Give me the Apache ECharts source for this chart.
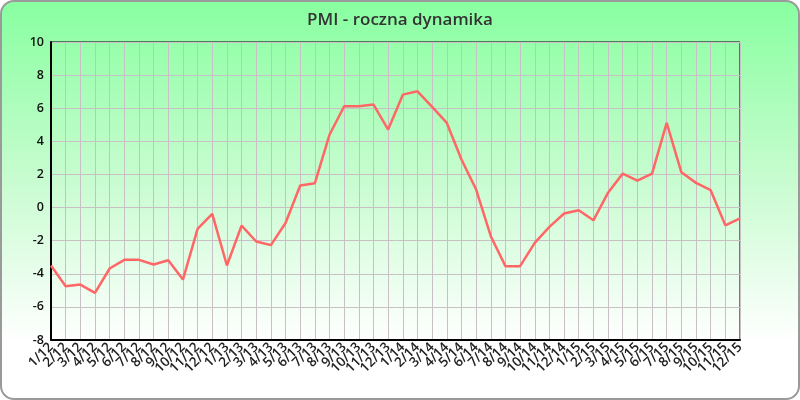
<!DOCTYPE html>
<html><head><meta charset="utf-8">
<script src="https://cdn.jsdelivr.net/npm/echarts@6/dist/echarts.min.js"></script>
<style>
html,body{margin:0;padding:0;background:#fff;}
#wrap{position:absolute;left:0;top:0;width:796px;height:396px;border:2px solid #9a9a9a;border-radius:14px;
background:linear-gradient(to bottom,#88ffa0 0%,#c8fcd0 45%,#ffffff 86%,#ffffff 100%);overflow:hidden;}
#chart{width:796px;height:396px;}
</style></head>
<body><div id="wrap"><div id="chart"></div></div>
<script>
var categories = ['1/12','2/12','3/12','4/12','5/12','6/12','7/12','8/12','9/12','10/12','11/12','12/12',
'1/13','2/13','3/13','4/13','5/13','6/13','7/13','8/13','9/13','10/13','11/13','12/13',
'1/14','2/14','3/14','4/14','5/14','6/14','7/14','8/14','9/14','10/14','11/14','12/14',
'1/15','2/15','3/15','4/15','5/15','6/15','7/15','8/15','9/15','10/15','11/15','12/15'];
var pmiValues = [-3.5,-4.75,-4.65,-5.15,-3.68,-3.16,-3.16,-3.44,-3.18,-4.35,-1.29,-0.38,
-3.5,-1.09,-2.05,-2.27,-0.93,1.33,1.47,4.4,6.12,6.12,6.22,4.71,
6.82,7.02,6.08,5.11,2.9,1.09,-1.73,-3.54,-3.54,-2.13,-1.17,-0.36,
-0.16,-0.77,0.9,2.05,1.63,2.05,5.11,2.13,1.49,1.05,-1.07,-0.66];
var titleText = 'PMI - roczna dynamika';

var chart = echarts.init(document.getElementById('chart'), null, {renderer:'canvas'});
chart.setOption({
  backgroundColor:'transparent',
  animation:false,
  title:{text:titleText,left:'center',top:5,textStyle:{fontFamily:'Open Sans',fontSize:17,fontWeight:600,color:'#333'}},
  grid:{left:49,top:40,width:689,height:298,show:true,borderColor:'#000',borderWidth:1,backgroundColor:'transparent'},
  xAxis:{type:'category',data:categories,boundaryGap:false,
    axisLine:{show:true,onZero:false,lineStyle:{color:'#000',width:2}},
    axisTick:{show:false},
    splitLine:{show:true,interval:0,lineStyle:{color:'#c8c0c4',width:1}},
    axisLabel:{interval:0,rotate:45,margin:5,fontFamily:'Open Sans',fontSize:13.5,fontWeight:600,color:'#222'}},
  yAxis:{type:'value',min:-8,max:10,interval:2,
    axisLine:{show:true,onZero:false,lineStyle:{color:'#000',width:2}},
    axisTick:{show:false},
    splitLine:{show:true,lineStyle:{color:'#c8c0c4',width:1}},
    axisLabel:{margin:7,fontFamily:'Open Sans',fontSize:12.5,fontWeight:600,color:'#111'}},
  series:[{type:'line',data:pmiValues,showSymbol:false,symbol:'none',
    lineStyle:{color:'#ff6666',width:2.5}}]
});
</script></body></html>
